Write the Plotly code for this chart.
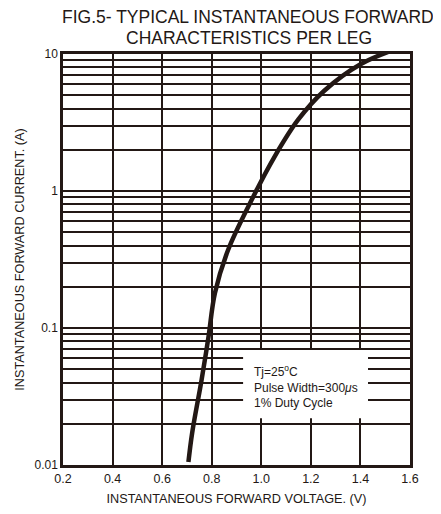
import plotly.graph_objects as go

# Data (forward voltage V, forward current A)
voltage = [0.706, 0.721, 0.759, 0.787, 0.813, 0.866, 0.967, 1.055, 1.148, 1.253,
           1.402, 1.544]
current = [0.0105, 0.0171, 0.0417, 0.086, 0.180, 0.371, 0.904, 1.80, 3.30, 5.37,
           8.45, 10.88]

x_ticks = [0.2, 0.4, 0.6, 0.8, 1.0, 1.2, 1.4, 1.6]
x_labels = ["0.2", "0.4", "0.6", "0.8", "1.0", "1.2", "1.4", "1.6"]
y_ticks = [0.01, 0.1, 1, 10]
y_labels = ["0.01", "0.1", "1", "10"]
y_minor = [m * d for d in (0.01, 0.1, 1) for m in range(2, 10)]

title_lines = ["FIG.5- TYPICAL INSTANTANEOUS FORWARD", "CHARACTERISTICS PER LEG"]

INK = "#231815"
FONT = "Liberation Sans, Arial, sans-serif"

fig = go.Figure()
fig.add_trace(go.Scatter(
    x=voltage, y=current, mode="lines",
    line=dict(color=INK, width=4.5, shape="spline", smoothing=1.0),
    cliponaxis=False, showlegend=False, hoverinfo="skip"))

# the page body adds an 8px offset, so the figure is 8px smaller and margins shifted
fig.update_layout(
    width=433, height=506,
    margin=dict(l=55, r=31, t=46, b=49, autoexpand=False),
    paper_bgcolor="white", plot_bgcolor="white",
    font=dict(family=FONT, color=INK, size=12),
    xaxis=dict(range=[0.2, 1.6], tickvals=x_ticks, ticktext=x_labels,
               showgrid=True, gridcolor=INK, gridwidth=2,
               showline=True, linecolor=INK, linewidth=2.5, mirror=True,
               ticks="", zeroline=False, tickfont=dict(size=12.5),
               automargin=False,
               title=dict(text="INSTANTANEOUS FORWARD VOLTAGE. (V)",
                          font=dict(size=12.7), standoff=10)),
    yaxis=dict(type="log", range=[-2, 1], tickvals=y_ticks, ticktext=y_labels,
               showgrid=True, gridcolor=INK, gridwidth=2,
               minor=dict(tickvals=y_minor, showgrid=True, gridcolor=INK,
                          gridwidth=2, ticks=""),
               showline=True, linecolor=INK, linewidth=2.5, mirror=True,
               ticks="", zeroline=False, tickfont=dict(size=12),
               automargin=False,
               title=dict(text="INSTANTANEOUS FORWARD CURRENT. (A)",
                          font=dict(size=12.7), standoff=8)),
    shapes=[dict(type="rect", xref="paper", yref="paper",
                 x0=0.519, x1=0.879, y0=0.114, y1=0.280,
                 fillcolor="white", line=dict(width=0), layer="above")],
    annotations=[
        dict(text=title_lines[0],
             xref="paper", yref="paper", x=0.533, y=1.0, yshift=37,
             xanchor="center", yanchor="middle", showarrow=False,
             font=dict(size=17.5, color=INK)),
        dict(text=title_lines[1],
             xref="paper", yref="paper", x=0.535, y=1.0, yshift=16,
             xanchor="center", yanchor="middle", showarrow=False,
             font=dict(size=17.5, color=INK)),
        dict(text="Tj=25<sup>o</sup>C<br>Pulse Width=300<i>μ</i>s<br>1% Duty Cycle",
             xref="paper", yref="paper", x=0.545, y=0.253,
             xanchor="left", yanchor="top", showarrow=False,
             font=dict(size=12, color=INK), align="left"),
    ],
)

fig.write_html("out.html")
